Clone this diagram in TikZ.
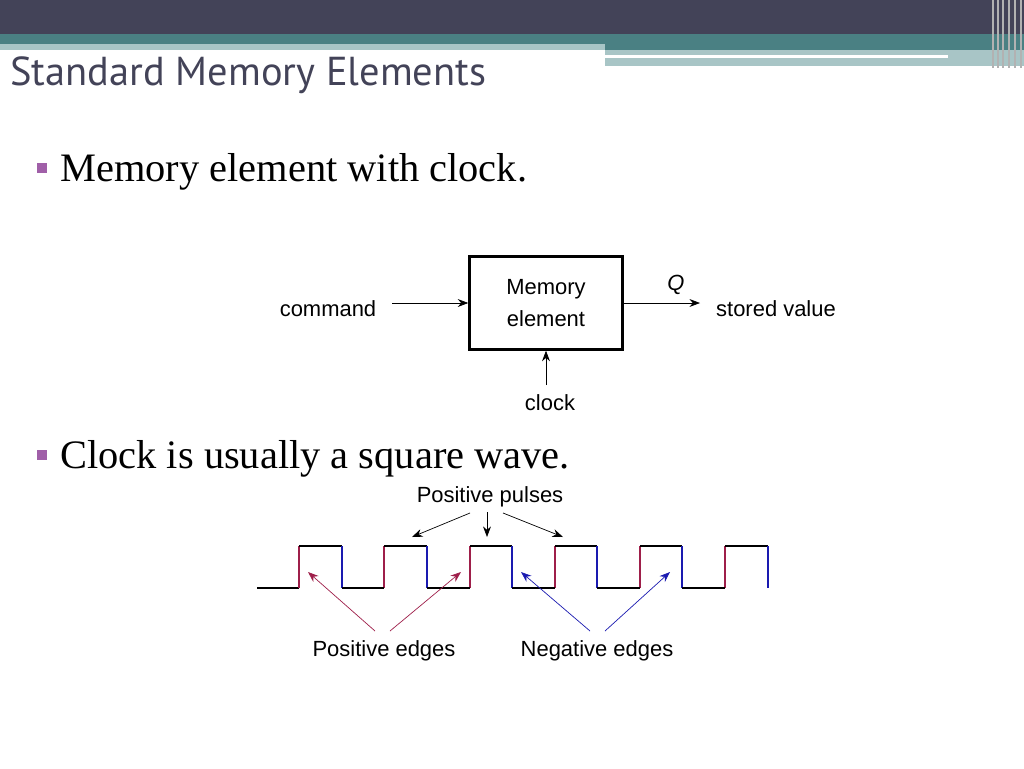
\documentclass[tikz,border=0pt]{standalone}
\usepackage{fontspec}
\setmainfont{Liberation Serif}
\setsansfont{Liberation Sans}
\newfontfamily\titlefont{PT Sans}
\usetikzlibrary{arrows.meta, positioning}
\definecolor{bandDark}{HTML}{434358}
\definecolor{bandTeal}{HTML}{4A8083}
\definecolor{bandLight}{HTML}{A8C5C6}
\definecolor{bulletPurple}{HTML}{A05FA8}
\definecolor{edgeRed}{HTML}{9E1F4A}
\definecolor{edgeBlue}{HTML}{1A1AB0}

\begin{document}
\begin{tikzpicture}[
    x=0.02cm, y=-0.02cm,
    lbl/.style = {font=\sffamily\fontsize{12.5}{14}\selectfont, inner sep=0pt},
    bullet/.style = {fill=bulletPurple, minimum size=0.2cm, inner sep=0pt},
    point/.style = {font=\fontsize{23}{26}\selectfont, anchor=west, inner sep=0pt},
    memblock/.style = {draw, line width=1.4pt, minimum width=3.06cm, minimum height=1.86cm, align=center, font=\sffamily\fontsize{12.5}{18}\selectfont},
    arrow/.style = {-{Stealth[length=6pt]}, thin},
    wave/.style = {line width=1.2pt}
  ]
  \useasboundingbox (0,0) rectangle (1024,768);

  % Header bands
  \fill[bandDark] (0,0) rectangle (1024,34);
  \fill[bandTeal] (0,34) rectangle (1024,50);
  \fill[bandLight] (0,44) rectangle (605,50);
  \fill[bandLight] (605,50) rectangle (1024,66);
  \fill[white] (605,55) rectangle (948,58);
  \fill[white] (825,66) rectangle (990,70);
  \foreach \xs in {992,997,1002,1008,1014,1020}
    \fill[gray!60] (\xs,0) rectangle ++(2,68);

  % Title
  \node[anchor=west, text=bandDark, font=\titlefont\fontsize{23}{26}\selectfont, inner sep=0pt] (title) at (10,75) {Standard Memory Elements};

  % Bullets
  \node[bullet] (b1) at (42,168) {};
  \node[point] (p1) at (60,172) {Memory element with clock.};
  \node[bullet] (b2) at (42,455) {};
  \node[point] (p2) at (60,459) {Clock is usually a square wave.};

  % Memory element
  \node[memblock] (mem) at (546,303) {Memory\\element};
  \node[lbl] (cmd) at (328,309) {command};
  \node[lbl] (stored) at (776,309) {stored value};
  \node[lbl, font=\sffamily\itshape\fontsize{12.5}{14}\selectfont] (q) at (676,285) {Q};
  \node[lbl] (clk) at (550,403) {clock};
  \coordinate (cmdEnd) at (392,303);
  \coordinate (outEnd) at (700,303);
  \coordinate (clkEnd) at (546,385);
  \draw[arrow] (cmdEnd) -- (mem.west);
  \draw[arrow] (mem.east) -- (outEnd);
  \draw[arrow] (clkEnd) -- (mem.south);

  % Square wave
  \draw[wave] (257,588) -- (299,588);
  \foreach \r/\f in {299/342, 384/427, 470/512, 555/597, 640/682, 725/768} {
    \draw[wave, edgeRed] (\r,588) -- (\r,546);
    \draw[wave] (\r,546) -- (\f,546);
    \draw[wave, edgeBlue] (\f,546) -- (\f,588);
  }
  \foreach \r/\f in {342/384, 427/470, 512/555, 597/640, 682/725}
    \draw[wave] (\r,588) -- (\f,588);

  % Labels and pointers
  \node[lbl] (pulses) at (490,497) {Positive pulses};
  \node[lbl] (posEdges) at (384,651) {Positive edges};
  \node[lbl] (negEdges) at (597,651) {Negative edges};
  \coordinate (pp1) at (412,537);
  \coordinate (pp2) at (487,537);
  \coordinate (pp3) at (563,537);
  \draw[arrow] (470,513) -- (pp1);
  \draw[arrow] (487,512) -- (pp2);
  \draw[arrow] (503,513) -- (pp3);
  \coordinate (pe1) at (308,572);
  \coordinate (pe2) at (461,572);
  \coordinate (ne1) at (521,572);
  \coordinate (ne2) at (670,572);
  \draw[arrow, edgeRed] (375,631) -- (pe1);
  \draw[arrow, edgeRed] (390,631) -- (pe2);
  \draw[arrow, edgeBlue] (590,631) -- (ne1);
  \draw[arrow, edgeBlue] (605,631) -- (ne2);
\end{tikzpicture}
\end{document}
